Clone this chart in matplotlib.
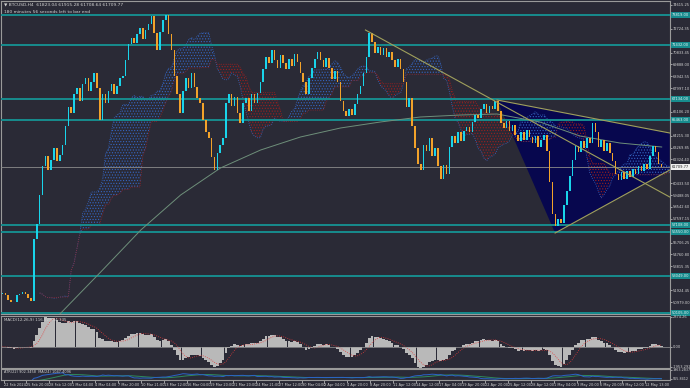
import numpy as np
import pandas as pd
import matplotlib
matplotlib.use("Agg")
import matplotlib.pyplot as plt
import matplotlib.transforms as mtransforms
from matplotlib.patches import Polygon

# ---- data (BTCUSD H4, drawn as 8h candles) ----
first_open = 51600
closes = [
    51700, 51500, 51100, 50950, 51000, 51500, 51650, 51800, 51600, 51300, 51050,
    56000, 57200, 59500, 61800, 62600, 61500, 62300, 63200, 62200, 62700,
    63500, 65000, 66500, 66000, 67500, 68000, 67000, 68300, 68800, 67800,
    68500, 69200, 68000, 65500, 67500, 66800, 67800, 68300, 67500, 68200,
    68800, 69000, 70200, 71500, 72000, 71600, 72300, 72800, 71900, 72600,
    73100, 73700, 72400, 71000, 72500, 73400, 73800, 72300, 71000, 69000,
    67500, 66000, 67800, 68800, 68000, 69200, 68100, 67200, 66800, 65500,
    64500, 64000, 62500, 61500, 62800, 63500, 64000, 66800, 67500, 66600,
    67300, 66000, 65200, 66800, 67200, 66200, 67500, 66800, 67600, 68500,
    69500, 70500, 70000, 71000, 70200, 69600, 70600, 70000, 69500, 70300,
    69800, 70700, 70100, 69200, 68500, 67500, 68800, 69600, 70300, 70900,
    70200, 69700, 70400, 69600, 68700, 69400, 68500, 67000, 66200, 65800,
    66300, 65900, 66700, 67500, 68200, 69200, 70500, 72400, 71700, 70800,
    71300, 70600, 71200, 70500, 70900, 70200, 69700, 70300, 69500, 68500,
    66500, 67200, 65000, 63200, 62000, 61500, 63500, 63000, 64000, 62600,
    63200, 61800, 60800, 61900, 61200, 63300, 64200, 63600, 64500, 63800,
    64600, 64900, 64500, 65300, 65900, 65600,
    66300, 66700, 66000, 66600, 66300, 67000, 66200, 65200, 64800, 65400,
    64600, 65100, 64300, 63800, 64500, 63900, 64700, 64100, 63600, 64200,
    63300, 63900, 64300, 63000, 60500, 58000, 57000, 57600, 57300, 58700,
    59800, 61000, 62300, 63400, 62900, 63800, 63200, 64000, 63600, 65200,
    64500, 63300, 63900, 63000, 63600, 62800, 62200, 61200, 60700, 61300,
    60800, 61400, 60900, 61600, 61200, 61800, 61400, 62000, 61600, 62600,
    63400, 62900, 62000, 61709.77,
]

# long moving average, read as anchor points (bar index, price)
ma_idx = [19.7, 34.3, 48.3, 62.2, 76.1, 90.1, 104, 118, 131.9, 145.8, 159.8, 172.6, 187.6, 201.6, 215.5, 230.1]
ma_val = [49945, 53367, 56710, 59495, 61644, 63075, 64110, 64827, 65304, 65702, 65860, 65940, 65304, 64190, 63633, 63315]

# horizontal levels
levels = [73819, 71432, 67134, 65463, 57108, 56550, 53049, 50105]
current_price = 61709.77

# trend lines (bar index, price)
trend_main = [(126.7, 72626), (232.9, 59336)]
tri_top = (172.6, 67055)
tri_low = (192.9, 56471)
tri_right_up = (232.9, 64429)
tri_right_dn = (232.9, 61484)

price_ticks = [74615.25 - 945.45 * k for k in range(26)]
macd_ticks = [2874.26, 0.0, -1953.292]
macd_tick_labels = ["2874.26", "0.00", "-1953.292"]
atr_ticks = [1963.2837, 565.8412]
atr_tick_labels = ["1963.2837", "565.8412"]

date_labels = ["22 Feb 2024", "25 Feb 20:00", "28 Feb 12:00", "1 Mar 04:00", "4 Mar 04:00",
               "7 Mar 20:00", "10 Mar 21:00", "13 Mar 12:00", "16 Mar 04:00", "19 Mar 20:00",
               "21 Mar 20:00", "24 Mar 21:00", "27 Mar 12:00", "30 Mar 04:00", "2 Apr 04:00",
               "4 Apr 20:00", "8 Apr 20:00", "11 Apr 12:00", "14 Apr 12:00", "17 Apr 04:00",
               "19 Apr 20:00", "22 Apr 20:00", "25 Apr 12:00", "28 Apr 12:00", "1 May 04:00",
               "3 May 20:00", "6 May 20:00", "9 May 12:00", "12 May 13:00"]

# ---- styling ----
BG = "#2a2a36"
FRAME = "#9a9a9a"
TXT = "#d2d2d2"
BULL = "#19d4ea"
BEAR = "#f2a22a"
TEAL = "#178c8e"
OLIVE = "#a0a05c"
FS = 2.6
plt.rcParams["hatch.linewidth"] = 0.5
plt.rcParams["font.family"] = ["DejaVu Sans Condensed", "DejaVu Sans"]

c = pd.Series(closes, dtype=float)
x = np.arange(len(c))
o = c.shift(1).fillna(first_open)

W, H = 690, 388


def box(x0, y0, x1, y1):
    return [x0 / W, 1 - y1 / H, (x1 - x0) / W, (y1 - y0) / H]


fig = plt.figure(figsize=(6.9, 3.88), dpi=100)
fig.patch.set_facecolor(BG)
ax = fig.add_axes(box(1, 1, 670, 314))
axm = fig.add_axes(box(1, 316, 670, 368), sharex=ax)
axa = fig.add_axes(box(1, 369, 670, 380), sharex=ax)

for a in (ax, axm, axa):
    a.set_facecolor(BG)
    for s in a.spines.values():
        s.set_color(FRAME)
        s.set_linewidth(0.8)
    a.yaxis.tick_right()
    a.tick_params(axis="y", labelsize=FS, colors=TXT, length=1.5, width=0.5, pad=0.6)
    a.tick_params(axis="x", labelbottom=False, length=0)

ax.set_xlim(-0.5, 233.0)
ax.set_ylim(50025, 74933)

# triangle pattern
ax.add_patch(Polygon([tri_top, tri_low, tri_right_dn, tri_right_up], closed=True,
                     facecolor="#07074e", edgecolor="none", zorder=1))

# ichimoku cloud from the closes
shift = 13
tenkan = (c.rolling(5, min_periods=1).max() + c.rolling(5, min_periods=1).min()) / 2
kijun = (c.rolling(13, min_periods=1).max() + c.rolling(13, min_periods=1).min()) / 2
span_a = ((tenkan + kijun) / 2).values
span_b = ((c.rolling(26, min_periods=1).max() + c.rolling(26, min_periods=1).min()) / 2).values
xc = x + shift
ax.fill_between(xc, span_a, span_b, where=span_a >= span_b, interpolate=True,
                facecolor="none", edgecolor="#3566c2", hatch="......", linewidth=0, zorder=2)
ax.fill_between(xc, span_a, span_b, where=span_a < span_b, interpolate=True,
                facecolor="none", edgecolor="#9a2020", hatch="......", linewidth=0, zorder=2)
ax.plot(xc, span_a, color="#3566c2", lw=0.6, ls=":", zorder=2)
ax.plot(xc, span_b, color="#9a2020", lw=0.6, ls=":", zorder=2)

# levels and lines
for p in levels:
    ax.axhline(p, color=TEAL, lw=1.4, zorder=3)
ax.axhline(current_price, color="#8c8c8c", lw=0.6, zorder=3)
ax.plot(ma_idx, ma_val, color="#6e8f7a", lw=0.7, zorder=3)
ax.plot(*zip(*trend_main), color=OLIVE, lw=0.8, zorder=5)
ax.plot(*zip(tri_top, tri_right_up), color=OLIVE, lw=0.8, zorder=5)
ax.plot(*zip(tri_low, tri_right_dn), color=OLIVE, lw=0.8, zorder=5)

# candles
up = c >= o
ax.bar(x, (c - o).values, bottom=o.values, width=0.55,
       color=np.where(up, BULL, BEAR), linewidth=0, zorder=4)

# price scale: ticks hidden where a level box covers them
px_per_price = 313 / (74933 - 50025)
covered = levels + [current_price]
shown = [p for p in price_ticks if all(abs(p - q) * px_per_price > 6 for q in covered)]
ax.set_yticks(shown)
ax.set_yticklabels([f"{p:.2f}" for p in shown])
tr = mtransforms.blended_transform_factory(ax.transAxes, ax.transData)
for p in levels:
    ax.text(1.003, p, f"{p:.2f}", transform=tr, fontsize=FS, color="#e8f4f4", va="center",
            ha="left", clip_on=False, zorder=10,
            bbox=dict(boxstyle="square,pad=0.2", fc=TEAL, ec="none"))
ax.text(1.003, current_price, f"{current_price:.2f}", transform=tr, fontsize=FS, color="#202020",
        va="center", ha="left", clip_on=False, zorder=10,
        bbox=dict(boxstyle="square,pad=0.2", fc="#f0f0f0", ec="none"))

ax.text(0.004, 0.995, "\u25bc BTCUSD,H4  61823.04 61915.28 61708.64 61709.77",
        transform=ax.transAxes, fontsize=3.2, color=TXT, va="top", ha="left")
ax.text(0.004, 0.972, "180 minutes 56 seconds left to bar end",
        transform=ax.transAxes, fontsize=3.2, color=TXT, va="top", ha="left")

# MACD panel
ema_fast = c.ewm(span=6, adjust=False).mean()
ema_slow = c.ewm(span=13, adjust=False).mean()
macd = ema_fast - ema_slow
signal = macd.rolling(5, min_periods=1).mean()
axm.bar(x, macd.values, width=0.95, color="#b9b9b9", linewidth=0)
axm.plot(x, signal.values, color="#e23b3b", lw=0.6, ls=":")
axm.axhline(0, color="#9a9a9a", lw=0.5)
axm.set_ylim(-2050, 2970)
axm.set_yticks(macd_ticks)
axm.set_yticklabels(macd_tick_labels)
axm.text(0.004, 0.97, "MACD(12,26,9) 116.529 44.335", transform=axm.transAxes,
         fontsize=2.9, color=TXT, va="top", ha="left")

# ATR panel
atr = c.diff().abs().fillna(0).rolling(11, min_periods=1).mean()
atr_ma = atr.rolling(12, min_periods=1).mean()
axa.plot(x, atr_ma.values, color="#2f8a5c", lw=0.7)
axa.plot(x, atr.values, color="#2a63c8", lw=0.7)
axa.set_ylim(400, 2100)
axa.set_yticks(atr_ticks)
axa.set_yticklabels(atr_tick_labels)
axa.tick_params(axis="y", labelsize=2.4)
axa.text(0.004, 0.92, "ATR(22) 902.3458  MA(24) 1047.4096", transform=axa.transAxes,
         fontsize=2.5, color=TXT, va="top", ha="left")

date_pos = [0.4 + 8 * k for k in range(len(date_labels))]
axa.set_xticks(date_pos)
axa.set_xticklabels(date_labels)
axa.tick_params(axis="x", labelbottom=True, length=2, width=0.5, colors=TXT,
                labelsize=2.5, pad=0.5, direction="out")
for lbl in axa.get_xticklabels():
    lbl.set_horizontalalignment("left")

fig.savefig("out.png", dpi=100, facecolor=BG)
